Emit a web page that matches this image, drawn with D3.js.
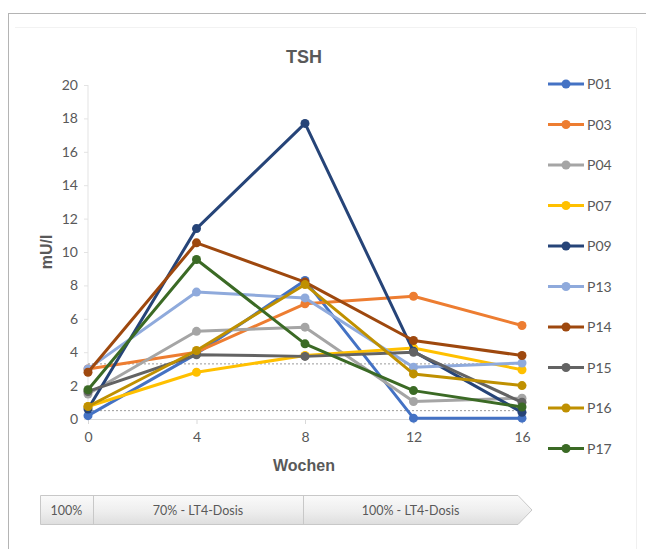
<!DOCTYPE html>
<html>
<head>
<meta charset="utf-8">
<script src="https://cdn.jsdelivr.net/npm/d3@7"></script>
<style>
  html, body { margin: 0; padding: 0; background: #fff; }
  svg { display: block; }
</style>
</head>
<body>
<svg id="chart" width="646" height="549"></svg>
<script>
// Weeks of follow-up
const weeks = [0, 4, 8, 12, 16];

// TSH (mU/l) per patient
const P01 = [0.2, 3.9, 8.3, 0.05, 0.05];
const P03 = [3.0, 4.0, 6.9, 7.35, 5.6];
const P04 = [1.5, 5.25, 5.5, 1.05, 1.25];
const P07 = [0.75, 2.8, 3.8, 4.25, 2.95];
const P09 = [0.6, 11.4, 17.7, 4.05, 0.4];
const P13 = [3.0, 7.6, 7.25, 3.1, 3.35];
const P14 = [2.8, 10.55, 8.2, 4.7, 3.8];
const P15 = [1.65, 3.85, 3.75, 4.0, 1.0];
const P16 = [0.75, 4.1, 8.05, 2.7, 2.0];
const P17 = [1.75, 9.55, 4.5, 1.7, 0.72];

const seriesNames = ["P01", "P03", "P04", "P07", "P09", "P13", "P14", "P15", "P16", "P17"];
const seriesValues = [P01, P03, P04, P07, P09, P13, P14, P15, P16, P17];
const seriesColors = ["#4472C4", "#ED7D31", "#A5A5A5", "#FFC000", "#264478",
                      "#8FAADC", "#9E480E", "#636363", "#BF9000", "#3B6A25"];

// Reference range shown as dotted lines
const refLines = [0.5, 3.3];

const yTicks = [0, 2, 4, 6, 8, 10, 12, 14, 16, 18, 20];

// Dose phases along the timeline
const phases = [
  { label: "100%", from: 40, to: 93 },
  { label: "70% - LT4-Dosis", from: 93, to: 303 },
  { label: "100% - LT4-Dosis", from: 303, to: 518 }
];

const svg = d3.select("#chart");
const textColor = "#595959";
const tickFont = "Lato, 'Open Sans', sans-serif";
const titleFont = "'Liberation Sans', Arial, sans-serif";

// Frame
svg.append("rect").attr("x", 8.5).attr("y", 13.5).attr("width", 646).attr("height", 549)
  .attr("fill", "#fff").attr("stroke", "#b4b4b4").attr("stroke-width", 1);
svg.append("line").attr("x1", 636.5).attr("x2", 636.5).attr("y1", 28).attr("y2", 549)
  .attr("stroke", "#f0f0f0");
svg.append("line").attr("x1", 15).attr("x2", 636).attr("y1", 27.5).attr("y2", 27.5)
  .attr("stroke", "#f2f2f2");

const x = d3.scaleLinear().domain([0, 16]).range([88, 522]);
const y = d3.scaleLinear().domain([0, 20]).range([419, 85]);

// Title
svg.append("text").attr("x", 304).attr("y", 63).attr("text-anchor", "middle")
  .attr("font-family", titleFont).attr("font-weight", "bold").attr("font-size", 18)
  .attr("fill", textColor).text("TSH");

// Plot frame lines
svg.append("line").attr("x1", x(0)).attr("x2", x(0)).attr("y1", y(20)).attr("y2", y(0))
  .attr("stroke", "#e3e3e3").attr("stroke-width", 1);

// Y axis
const yAxis = d3.axisLeft(y).tickValues(yTicks).tickSize(4).tickPadding(6);
const gy = svg.append("g").attr("transform", `translate(${x(0)},0)`).call(yAxis);
gy.select(".domain").remove();
gy.selectAll(".tick line").attr("stroke", "#e3e3e3");
gy.selectAll(".tick text").attr("font-family", tickFont).attr("font-size", 14)
  .attr("fill", textColor);

// X axis
const xAxis = d3.axisBottom(x).tickValues(weeks).tickSize(5).tickPadding(8);
const gx = svg.append("g").attr("transform", `translate(0,${y(0)})`).call(xAxis);
gx.select(".domain").attr("stroke", "#d9d9d9");
gx.selectAll(".tick line").attr("stroke", "#d9d9d9");
gx.selectAll(".tick text").attr("font-family", tickFont).attr("font-size", 14)
  .attr("fill", textColor);

// Axis titles
svg.append("text").attr("x", 304).attr("y", 471).attr("text-anchor", "middle")
  .attr("font-family", titleFont).attr("font-weight", "bold").attr("font-size", 16)
  .attr("fill", textColor).text("Wochen");
svg.append("text").attr("transform", `translate(52,${y(10)}) rotate(-90)`)
  .attr("text-anchor", "middle")
  .attr("font-family", titleFont).attr("font-weight", "bold").attr("font-size", 16)
  .attr("fill", textColor).text("mU/l");

// Reference lines
svg.selectAll(".ref").data(refLines).enter().append("line")
  .attr("x1", x(0)).attr("x2", x(16))
  .attr("y1", d => y(d)).attr("y2", d => y(d))
  .attr("stroke", "#9a9a9a").attr("stroke-width", 1).attr("stroke-dasharray", "2,2");

// Series lines and markers
const line = d3.line().x((d, i) => x(weeks[i])).y(d => y(d));
seriesValues.forEach((vals, si) => {
  const g = svg.append("g");
  g.append("path").datum(vals).attr("d", line).attr("fill", "none")
    .attr("stroke", seriesColors[si]).attr("stroke-width", 3)
    .attr("stroke-linejoin", "round");
  g.selectAll("circle").data(vals).enter().append("circle")
    .attr("cx", (d, i) => x(weeks[i])).attr("cy", d => y(d)).attr("r", 4.5)
    .attr("fill", seriesColors[si]);
});

// Legend
const legend = svg.append("g");
seriesNames.forEach((name, i) => {
  const ly = 84 + i * 40.5;
  legend.append("line").attr("x1", 548).attr("x2", 584).attr("y1", ly).attr("y2", ly)
    .attr("stroke", seriesColors[i]).attr("stroke-width", 3);
  legend.append("circle").attr("cx", 566).attr("cy", ly).attr("r", 4.5)
    .attr("fill", seriesColors[i]);
  legend.append("text").attr("x", 587).attr("y", ly + 5)
    .attr("font-family", tickFont).attr("font-size", 14).attr("fill", textColor)
    .text(name);
});

// Dose timeline arrow
const defs = svg.append("defs");
const grad = defs.append("linearGradient").attr("id", "barGrad")
  .attr("x1", 0).attr("x2", 0).attr("y1", 0).attr("y2", 1);
grad.append("stop").attr("offset", "0%").attr("stop-color", "#fafafa");
grad.append("stop").attr("offset", "55%").attr("stop-color", "#eeeeee");
grad.append("stop").attr("offset", "100%").attr("stop-color", "#dedede");

const barTop = 495.5, barBot = 524.5, barMid = (barTop + barBot) / 2;
const tipX = 532;
svg.append("path")
  .attr("d", `M40.5,${barTop} L518,${barTop} L${tipX},${barMid} L518,${barBot} L40.5,${barBot} Z`)
  .attr("fill", "url(#barGrad)").attr("stroke", "#c8c8c8").attr("stroke-width", 1);
phases.slice(1).forEach(p => {
  svg.append("line").attr("x1", p.from + 0.5).attr("x2", p.from + 0.5)
    .attr("y1", barTop).attr("y2", barBot).attr("stroke", "#c8c8c8");
});
phases.forEach(p => {
  svg.append("text").attr("x", (p.from + p.to) / 2).attr("y", barMid + 4.5)
    .attr("text-anchor", "middle").attr("font-family", tickFont).attr("font-size", 12.5)
    .attr("fill", textColor).text(p.label);
});
</script>
</body>
</html>
